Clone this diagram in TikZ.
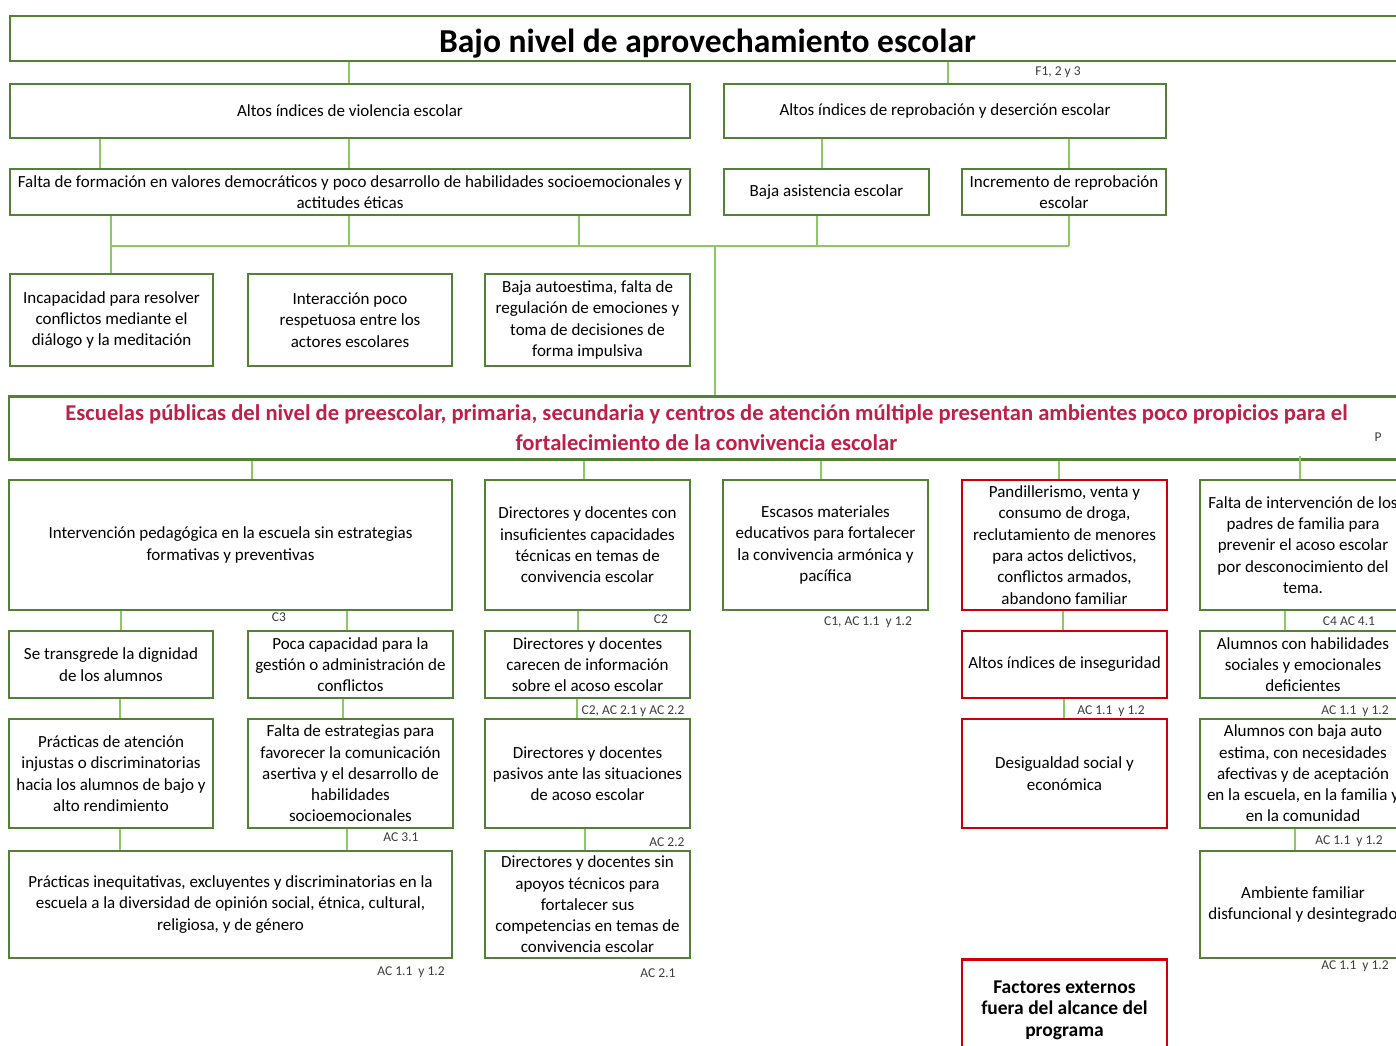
\documentclass[tikz,border=0pt]{standalone}
\usepackage{fontspec}
\setmainfont{Carlito}
\definecolor{gborder}{RGB}{84,130,53}
\definecolor{gline}{RGB}{140,200,100}
\definecolor{rborder}{RGB}{204,0,0}
\definecolor{rtext}{RGB}{192,32,72}
\definecolor{lbl}{RGB}{60,60,60}
\tikzset{
  gbox/.style={draw=gborder, line width=2.6pt, fill=white, align=center, inner sep=1pt,
    font=\fontsize{17}{21.3}\selectfont},
  rbox/.style={gbox, draw=rborder},
  conn/.style={draw=gline, line width=1.8pt},
  lab/.style={font=\fontsize{13.5}{14}\selectfont, text=lbl, inner sep=0pt},
}
\begin{document}
\begin{tikzpicture}[x=1pt,y=-1pt]
\useasboundingbox (0,0) rectangle (1396,1045);
\fill[white] (0,0) rectangle (1396,1045);
\clip (0,0) rectangle (1396,1045);

% ---- boxes ----
\node[gbox, minimum width=1395, minimum height=45, text height=30pt, text depth=3pt, font=\fontsize{33.5}{36}\selectfont\bfseries] (title) at (707.5,38.5) {Bajo nivel de aprovechamiento escolar};
\node[gbox, minimum width=680, minimum height=54] (viol) at (350,111) {Altos índices de violencia escolar};
\node[gbox, minimum width=442, minimum height=54] (repro) at (945,111) {Altos índices de reprobación y deserción escolar};
\node[gbox, minimum width=680, minimum height=46] (falta) at (350,192) {Falta de formación en valores democráticos y poco desarrollo de habilidades socioemocionales y\\actitudes éticas};
\node[gbox, minimum width=205, minimum height=46] (asist) at (826.5,192) {Baja asistencia escolar};
\node[gbox, minimum width=204, minimum height=46] (incr) at (1064,192) {Incremento de reprobación\\escolar};
\node[gbox, minimum width=203, minimum height=92] (incap) at (111.5,320) {Incapacidad para resolver\\conflictos mediante el\\diálogo y la meditación};
\node[gbox, minimum width=204, minimum height=92] (inter) at (350,320) {Interacción poco\\respetuosa entre los\\actores escolares};
\node[gbox, minimum width=205, minimum height=92] (autoest) at (587.5,320) {Baja autoestima, falta de\\regulación de emociones y\\toma de decisiones de\\forma impulsiva};
\node[gbox, minimum width=1395, minimum height=63, font=\fontsize{22.6}{30}\selectfont\bfseries, text=rtext] (main) at (706.5,428) {Escuelas públicas del nivel de preescolar, primaria, secundaria y centros de atención múltiple presentan ambientes poco propicios para el\\fortalecimiento de la convivencia escolar};

\node[gbox, minimum width=443, minimum height=130] (interv) at (230.5,545) {Intervención pedagógica en la escuela sin estrategias\\formativas y preventivas};
\node[gbox, minimum width=205, minimum height=130] (dirins) at (587.5,545) {Directores y docentes con\\insuficientes capacidades\\técnicas en temas de\\convivencia escolar};
\node[gbox, minimum width=205, minimum height=130] (escasos) at (825.5,545) {Escasos materiales\\educativos para fortalecer\\la convivencia armónica y\\pacífica};
\node[rbox, minimum width=205, minimum height=130] (pandil) at (1064.5,545) {Pandillerismo, venta y\\consumo de droga,\\reclutamiento de menores\\para actos delictivos,\\conflictos armados,\\abandono familiar};
\node[gbox, minimum width=206, minimum height=130] (faltaint) at (1303,545) {Falta de intervención de los\\padres de familia para\\prevenir el acoso escolar\\por desconocimiento del\\tema.};

\node[gbox, minimum width=204, minimum height=67] (transg) at (111,664.5) {Se transgrede la dignidad\\de los alumnos};
\node[gbox, minimum width=205, minimum height=67] (poca) at (350.5,664.5) {Poca capacidad para la\\gestión o administración de\\conflictos};
\node[gbox, minimum width=205, minimum height=67] (carecen) at (587.5,664.5) {Directores y docentes\\carecen de información\\sobre el acoso escolar};
\node[rbox, minimum width=205, minimum height=67] (insegur) at (1064.5,664.5) {Altos índices de inseguridad};
\node[gbox, minimum width=206, minimum height=67] (alumhab) at (1303,664.5) {Alumnos con habilidades\\sociales y emocionales\\deficientes};

\node[gbox, minimum width=204, minimum height=109] (practat) at (111,773.5) {Prácticas de atención\\injustas o discriminatorias\\hacia los alumnos de bajo y\\alto rendimiento};
\node[gbox, minimum width=205, minimum height=109] (faltaest) at (350.5,773.5) {Falta de estrategias para\\favorecer la comunicación\\asertiva y el desarrollo de\\habilidades\\socioemocionales};
\node[gbox, minimum width=205, minimum height=109] (pasivos) at (587.5,773.5) {Directores y docentes\\pasivos ante las situaciones\\de acoso escolar};
\node[rbox, minimum width=205, minimum height=109] (desig) at (1064.5,773.5) {Desigualdad social y\\económica};
\node[gbox, minimum width=206, minimum height=109] (alumbaja) at (1303,773.5) {Alumnos con baja auto\\estima, con necesidades\\afectivas y de aceptación\\en la escuela, en la familia y\\en la comunidad};

\node[gbox, minimum width=443, minimum height=107] (inequit) at (230.5,904.5) {Prácticas inequitativas, excluyentes y discriminatorias en la\\escuela a la diversidad de opinión social, étnica, cultural,\\religiosa, y de género};
\node[gbox, minimum width=205, minimum height=107] (sinapoyo) at (587.5,904.5) {Directores y docentes sin\\apoyos técnicos para\\fortalecer sus\\competencias en temas de\\convivencia escolar};
\node[gbox, minimum width=206, minimum height=107] (ambiente) at (1303,904.5) {Ambiente familiar\\disfuncional y desintegrado};
\node[rbox, minimum width=205, minimum height=102, font=\fontsize{19.5}{21.5}\selectfont\bfseries, anchor=north] (factores) at (1064.5,958) {Factores externos\\fuera del alcance del\\programa};

% ---- connectors ----
\coordinate (busL) at (111,246);
\coordinate (busR) at (1069,246);
\draw[conn] (349,0 |- title.south) -- (349,0 |- viol.north);
\draw[conn] (948,0 |- title.south) -- (948,0 |- repro.north);
\draw[conn] (100,0 |- viol.south) -- (100,0 |- falta.north);
\draw[conn] (349,0 |- viol.south) -- (349,0 |- falta.north);
\draw[conn] (822,0 |- repro.south) -- (822,0 |- asist.north);
\draw[conn] (1069,0 |- repro.south) -- (1069,0 |- incr.north);
\draw[conn] (111,0 |- falta.south) -- (111,0 |- incap.north);
\draw[conn] (349,0 |- falta.south) -- (349,0 |- busL);
\draw[conn] (579,0 |- falta.south) -- (579,0 |- busL);
\draw[conn] (817,0 |- asist.south) -- (817,0 |- busL);
\draw[conn] (1069,0 |- incr.south) -- (busR);
\draw[conn, line width=1.4pt] (busL) -- (busR);
\draw[conn] (715,0 |- busL) -- (715,0 |- main.north);
\draw[conn] (252,0 |- main.south) -- (252,0 |- interv.north);
\draw[conn] (584,0 |- main.south) -- (584,0 |- dirins.north);
\draw[conn] (821,0 |- main.south) -- (821,0 |- escasos.north);
\draw[conn] (1059,0 |- main.south) -- (1059,0 |- pandil.north);
\draw[conn] ([yshift=5pt]1300,0 |- main.south) -- (1300,0 |- faltaint.north);
\draw[conn] (121,0 |- interv.south) -- (121,0 |- transg.north);
\draw[conn] (347,0 |- interv.south) -- (347,0 |- poca.north);
\draw[conn] (578,0 |- dirins.south) -- (578,0 |- carecen.north);
\draw[conn] (1063,0 |- pandil.south) -- (1063,0 |- insegur.north);
\draw[conn] (1285,0 |- faltaint.south) -- (1285,0 |- alumhab.north);
\draw[conn] (120,0 |- transg.south) -- (120,0 |- practat.north);
\draw[conn] (343,0 |- poca.south) -- (343,0 |- faltaest.north);
\draw[conn] (577,0 |- carecen.south) -- (577,0 |- pasivos.north);
\draw[conn] (1064,0 |- insegur.south) -- (1064,0 |- desig.north);
\draw[conn] (1295,0 |- alumbaja.south) -- (1295,0 |- ambiente.north);
\draw[conn] (120,0 |- practat.south) -- (120,0 |- inequit.north);
\draw[conn] (347,0 |- faltaest.south) -- (347,0 |- inequit.north);
\draw[conn] (585,0 |- pasivos.south) -- (585,0 |- sinapoyo.north);

% ---- small labels ----
\node[lab] (l1) at (1058,72) {F1, 2 y 3};
\node[lab] (l2) at (279,617) {C3};
\node[lab] (l3) at (661,619) {C2};
\node[lab] (l4) at (868,622) {C1, AC 1.1\ \ y 1.2};
\node[lab] (l5) at (1349,621) {C4 AC 4.1};
\node[lab] (l6) at (633,711) {C2, AC 2.1 y AC 2.2};
\node[lab] (l7) at (1111,711) {AC 1.1\ \ y 1.2};
\node[lab] (l8) at (1355,711) {AC 1.1\ \ y 1.2};
\node[lab] (l9) at (401,837) {AC 3.1};
\node[lab] (l10) at (667,842) {AC 2.2};
\node[lab] (l11) at (1349,841) {AC 1.1\ \ y 1.2};
\node[lab] (l12) at (411,972) {AC 1.1\ \ y 1.2};
\node[lab] (l13) at (658,973) {AC 2.1};
\node[lab] (l14) at (1355,966) {AC 1.1\ \ y 1.2};
\node[lab] (l15) at (1378,437) {P};
\end{tikzpicture}
\end{document}
